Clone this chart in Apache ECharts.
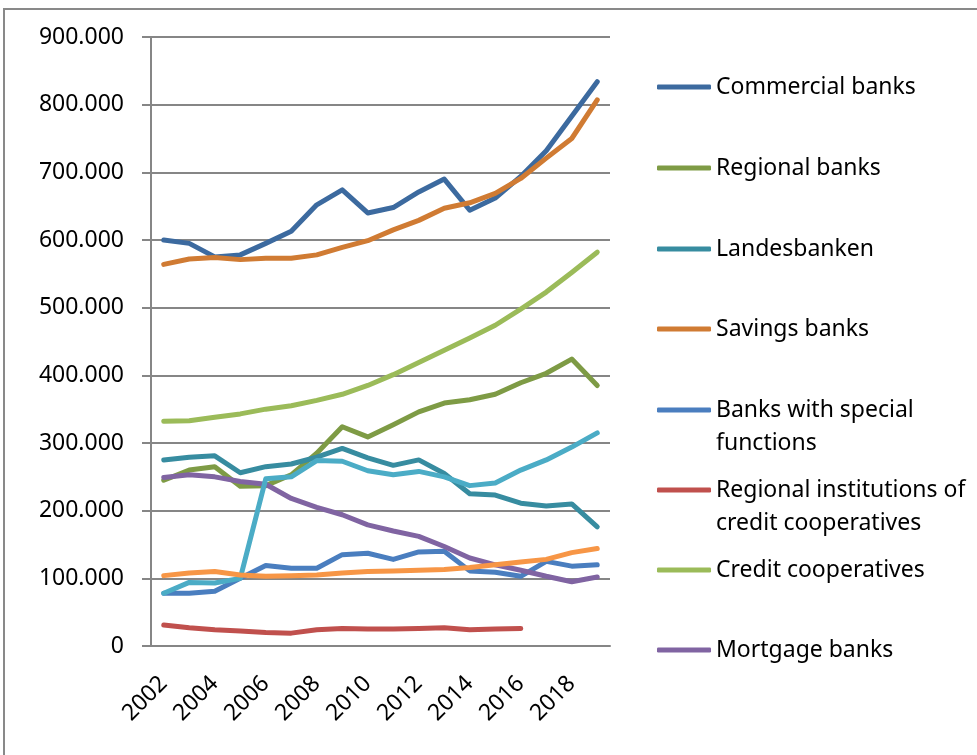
<!DOCTYPE html>
<html>
<head>
<meta charset="utf-8">
<script src="https://cdn.jsdelivr.net/npm/echarts@6/dist/echarts.min.js"></script>
<style>
  html, body { margin: 0; padding: 0; background: #fff; }
  #main { width: 977px; height: 755px; }
</style>
</head>
<body>
<div id="main"></div>
<script>
// years on the x axis
const years = ["2002", "2003", "2004", "2005", "2006", "2007", "2008", "2009", "2010",
  "2011", "2012", "2013", "2014", "2015", "2016", "2017", "2018", "2019"];

// y tick values (in thousands, shown as 100.000 etc.)
const yTicks = [0, 100, 200, 300, 400, 500, 600, 700, 800, 900];

// series values (thousands)
const commercialBanks = [600, 595, 575, 578, 595, 613, 652, 674, 640, 648, 671, 690, 644, 662, 694, 732, 783, 834];
const regionalBanks = [245, 260, 265, 236, 237, 253, 285, 324, 309, 327, 346, 359, 364, 372, 389, 403, 424, 385];
const landesbanken = [275, 279, 281, 256, 265, 269, 279, 292, 278, 267, 275, 255, 225, 223, 211, 207, 210, 176];
const savingsBanks = [564, 572, 574, 571, 573, 573, 578, 589, 599, 615, 629, 647, 655, 669, 691, 721, 750, 807];
const specialFunctions = [78, 78, 81, 100, 119, 115, 115, 135, 137, 128, 139, 140, 111, 109, 103, 125, 118, 120];
const regionalInstitutions = [31, 27, 24, 22, 20, 19, 24, 26, 25, 25, 26, 27, 24, 25, 26, null, null, null];
const creditCooperatives = [332, 333, 338, 343, 350, 355, 363, 372, 385, 401, 419, 437, 455, 474, 498, 523, 552, 582];
const mortgageBanks = [249, 253, 250, 243, 239, 218, 205, 194, 179, 170, 162, 147, 130, 120, 112, 103, 95, 102];
// two more lines are drawn but have no legend entry in the picture
const unlabeledAqua = [78, 94, 93, 100, 247, 250, 274, 273, 259, 253, 258, 250, 237, 241, 260, 275, 294, 315];
const unlabeledOrange = [104, 108, 110, 105, 103, 104, 105, 108, 110, 111, 112, 113, 116, 120, 124, 128, 138, 144];

const legendNames = ["Commercial banks", "Regional banks", "Landesbanken", "Savings banks",
  "Banks with special\nfunctions", "Regional institutions of\ncredit cooperatives",
  "Credit cooperatives", "Mortgage banks"];

const chartDom = document.getElementById("main");
const myChart = echarts.init(chartDom);

const font = "Noto Sans";
const lineH = 33;

// one legend per entry so each sits where Excel put it
const iconCenters = [86, 167, 248, 328, 409, 489, 569, 649];
const legends = legendNames.map((name, i) => {
  const twoLines = name.indexOf("\n") >= 0;
  return {
    data: [name],
    orient: "vertical",
    left: 652,
    // two-line names get an empty first line so the icon sits on the first text line
    top: (twoLines ? iconCenters[i] - lineH * 1.5 : iconCenters[i] - lineH / 2) - 4,
    icon: "roundRect",
    itemWidth: 54,
    itemHeight: 5,
    selectedMode: false,
    formatter: (n) => (twoLines ? "\n" + n : n),
    textStyle: {
      color: "#000",
      fontFamily: font,
      fontSize: 23,
      lineHeight: lineH,
    },
  };
});

function line(name, data, color) {
  return {
    name: name,
    type: "line",
    data: data,
    symbol: "none",
    smooth: false,
    connectNulls: false,
    lineStyle: { color: color, width: 5, cap: "round", join: "round" },
    itemStyle: { color: color },
  };
}

const option = {
  animation: false,
  backgroundColor: "#fff",
  legend: legends,
  grid: { left: 151, right: 367, top: 37, bottom: 109 },
  xAxis: {
    type: "category",
    data: years,
    boundaryGap: true,
    axisLine: { lineStyle: { color: "#868686", width: 2 } },
    axisTick: { interval: 0, length: 8, lineStyle: { color: "#868686", width: 2 } },
    axisLabel: {
      interval: 1,
      rotate: 45,
      margin: 34,
      color: "#000",
      fontFamily: font,
      fontSize: 23,
    },
  },
  yAxis: {
    type: "value",
    min: yTicks[0],
    max: yTicks[yTicks.length - 1],
    interval: 100,
    axisLine: { show: true, lineStyle: { color: "#868686", width: 2 } },
    axisTick: { show: true, length: 9, lineStyle: { color: "#868686", width: 2 } },
    splitLine: { lineStyle: { color: "#868686", width: 2 } },
    axisLabel: {
      margin: 27,
      color: "#000",
      fontFamily: font,
      fontSize: 23,
      formatter: (v) => (v === 0 ? "0" : v + ".000"),
    },
  },
  series: [
    line("Commercial banks", commercialBanks, "#3C6A9F"),
    line("Regional banks", regionalBanks, "#7E9B45"),
    line("Landesbanken", landesbanken, "#378CA0"),
    line("Savings banks", savingsBanks, "#D07B33"),
    line("Banks with special\nfunctions", specialFunctions, "#4A7EBF"),
    line("Regional institutions of\ncredit cooperatives", regionalInstitutions, "#C0504D"),
    line("Credit cooperatives", creditCooperatives, "#9BBB59"),
    line("Mortgage banks", mortgageBanks, "#8064A2"),
    line("Series 9", unlabeledAqua, "#4BACC6"),
    line("Series 10", unlabeledOrange, "#F79646"),
  ],
  graphic: [
    {
      type: "rect",
      silent: true,
      shape: { x: 4, y: 9, width: 1000, height: 800 },
      style: { fill: null, stroke: "#898989", lineWidth: 2 },
    },
  ],
};

option && myChart.setOption(option);
</script>
</body>
</html>
